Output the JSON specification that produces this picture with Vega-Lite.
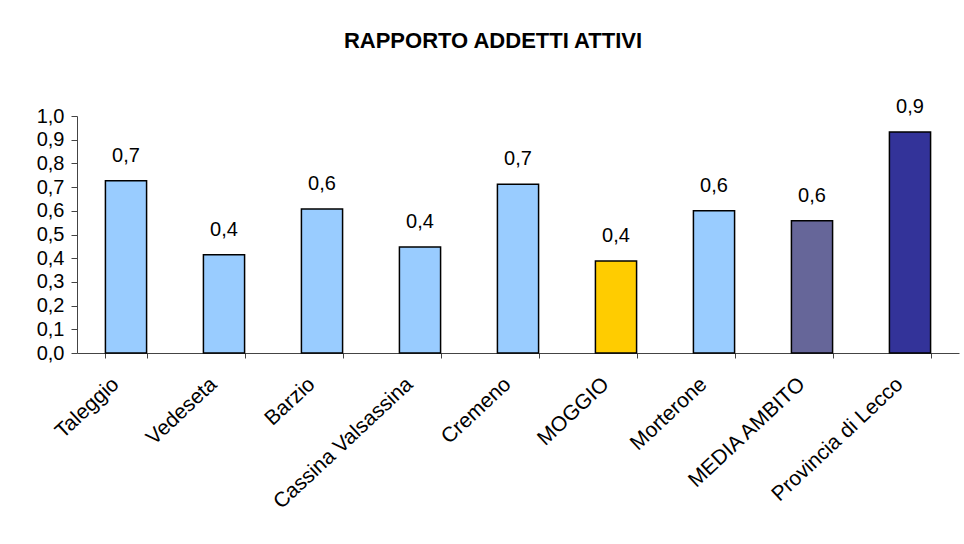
{
  "$schema": "https://vega.github.io/schema/vega-lite/v6.json",
  "width": 882,
  "height": 237,
  "autosize": {"type": "none"},
  "padding": {"left": 77, "top": 116, "right": 5, "bottom": 191},
  "background": "white",
  "title": {
    "text": "RAPPORTO ADDETTI ATTIVI",
    "font": "Liberation Sans",
    "fontSize": 22,
    "fontWeight": "bold",
    "color": "black",
    "anchor": "middle",
    "offset": 44,
    "dx": -25
  },
  "data": {
    "values": [
      {"comune": "Taleggio", "valore": 0.727, "tipo": "comune"},
      {"comune": "Vedeseta", "valore": 0.415, "tipo": "comune"},
      {"comune": "Barzio", "valore": 0.608, "tipo": "comune"},
      {"comune": "Cassina Valsassina", "valore": 0.447, "tipo": "comune"},
      {"comune": "Cremeno", "valore": 0.712, "tipo": "comune"},
      {"comune": "MOGGIO", "valore": 0.388, "tipo": "evidenza"},
      {"comune": "Morterone", "valore": 0.600, "tipo": "comune"},
      {"comune": "MEDIA AMBITO", "valore": 0.558, "tipo": "ambito"},
      {"comune": "Provincia di Lecco", "valore": 0.932, "tipo": "provincia"}
    ]
  },
  "encoding": {
    "x": {
      "field": "comune",
      "type": "nominal",
      "sort": null,
      "title": null,
      "scale": {"paddingInner": 0.58, "paddingOuter": 0.29},
      "axis": {
        "labelAngle": -43,
        "labelFont": "Liberation Sans",
        "labelFontSize": 21,
        "labelColor": "black",
        "labelPadding": 15,
        "labelOffset": -18,
        "labelLimit": 400,
        "tickBand": "extent",
        "tickSize": 5,
        "tickColor": "#444",
        "domainColor": "#444",
        "labelOverlap": false
      }
    },
    "y": {
      "field": "valore",
      "type": "quantitative",
      "title": null,
      "scale": {"domain": [0, 1]},
      "axis": {
        "values": [0, 0.1, 0.2, 0.3, 0.4, 0.5, 0.6, 0.7, 0.8, 0.9, 1.0],
        "format": ".1f",
        "grid": false,
        "labelFont": "Liberation Sans",
        "labelFontSize": 20,
        "labelColor": "black",
        "labelPadding": 7,
        "tickSize": 6,
        "tickColor": "#444",
        "domainColor": "#444"
      }
    }
  },
  "layer": [
    {
      "mark": {"type": "bar", "stroke": "black", "strokeWidth": 1.5},
      "encoding": {
        "color": {
          "field": "tipo",
          "type": "nominal",
          "legend": null,
          "scale": {
            "domain": ["comune", "evidenza", "ambito", "provincia"],
            "range": ["#99CCFF", "#FFCC00", "#666699", "#333399"]
          }
        }
      }
    },
    {
      "mark": {"type": "text", "dy": -25, "font": "Liberation Sans", "fontSize": 20, "color": "black"},
      "encoding": {
        "text": {"field": "valore", "type": "quantitative", "format": ".1f"}
      }
    }
  ],
  "config": {
    "view": {"stroke": null},
    "locale": {
      "number": {"decimal": ",", "thousands": ".", "grouping": [3], "currency": ["€", ""]}
    }
  }
}
